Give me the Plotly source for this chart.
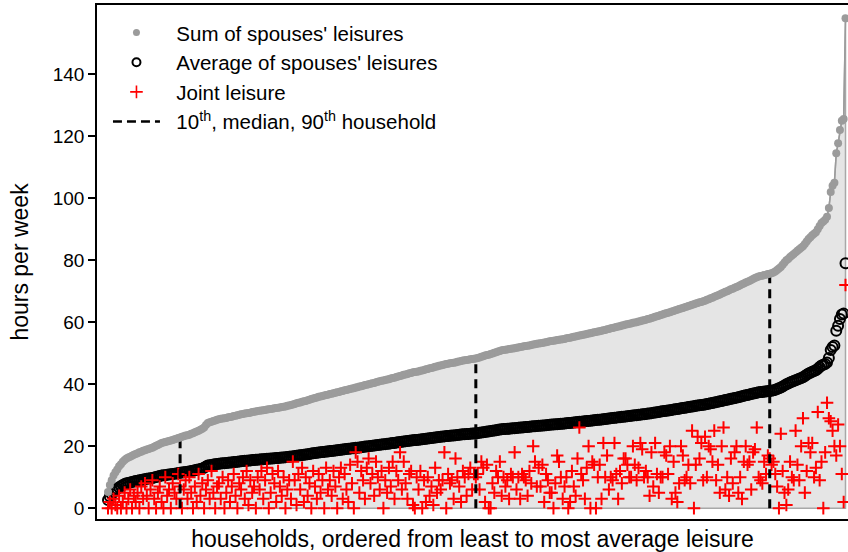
import plotly.graph_objects as go

# ---------------- data ----------------
sum_leisure = [
    5.2, 7.5, 9, 10.5, 11.6, 12.5, 13.5, 14.2, 15, 15.5, 16, 16.3, 16.6, 16.9, 17.2, 17.5, 17.7, 18, 18.2, 18.5,
    18.7, 18.9, 19.1, 19.3, 19.5, 19.8, 20.1, 20.4, 20.7, 21, 21.2, 21.3, 21.5, 21.7, 21.8, 22, 22.2, 22.4, 22.6, 22.8,
    23, 23.2, 23.4, 23.5, 23.7, 24, 24.2, 24.5, 24.7, 25, 25.3, 25.6, 26, 26.8, 27.5, 27.7, 27.9, 28.1, 28.3, 28.5,
    28.7, 28.8, 28.9, 29, 29.1, 29.3, 29.4, 29.5, 29.7, 29.8, 30, 30.1, 30.3, 30.4, 30.5, 30.6, 30.7, 30.8, 31, 31.1,
    31.2, 31.3, 31.4, 31.5, 31.6, 31.7, 31.8, 31.9, 32, 32.1, 32.2, 32.3, 32.4, 32.5, 32.6, 32.7, 32.8, 33, 33.1, 33.3,
    33.4, 33.6, 33.8, 34, 34.1, 34.3, 34.5, 34.6, 34.8, 35, 35.2, 35.4, 35.5, 35.7, 35.9, 36, 36.2, 36.3, 36.5, 36.6,
    36.8, 36.9, 37.1, 37.2, 37.4, 37.5, 37.7, 37.8, 38, 38.1, 38.3, 38.4, 38.6, 38.7, 38.9, 39, 39.2, 39.3, 39.5, 39.7,
    39.8, 40, 40.1, 40.3, 40.4, 40.6, 40.8, 40.9, 41.1, 41.2, 41.3, 41.5, 41.6, 41.8, 42, 42.1, 42.3, 42.5, 42.6, 42.8,
    43, 43.1, 43.3, 43.5, 43.6, 43.8, 43.9, 44, 44.1, 44.3, 44.4, 44.6, 44.8, 44.9, 45.1, 45.2, 45.4, 45.6, 45.7, 45.9,
    46, 46.2, 46.3, 46.5, 46.6, 46.7, 46.8, 46.9, 47, 47.2, 47.3, 47.5, 47.6, 47.7, 47.8, 47.9, 48, 48.1, 48.2, 48.3,
    48.4, 48.6, 48.8, 49, 49.2, 49.4, 49.5, 49.7, 49.9, 50.1, 50.3, 50.5, 50.7, 50.9, 51, 51.1, 51.2, 51.3, 51.4, 51.5,
    51.6, 51.7, 51.8, 52, 52.1, 52.2, 52.3, 52.4, 52.5, 52.6, 52.8, 52.9, 53, 53.1, 53.2, 53.3, 53.4, 53.5, 53.7, 53.8,
    53.9, 54, 54.1, 54.2, 54.3, 54.4, 54.5, 54.6, 54.8, 54.9, 55, 55.1, 55.3, 55.4, 55.5, 55.7, 55.8, 55.9, 56, 56.2,
    56.3, 56.4, 56.6, 56.7, 56.8, 57, 57.1, 57.2, 57.4, 57.5, 57.7, 57.8, 58, 58.1, 58.3, 58.4, 58.6, 58.7, 58.9, 59,
    59.2, 59.3, 59.5, 59.6, 59.8, 59.9, 60, 60.2, 60.3, 60.5, 60.6, 60.8, 61, 61.1, 61.3, 61.5, 61.7, 61.9, 62.1, 62.3,
    62.5, 62.7, 62.9, 63, 63.2, 63.4, 63.6, 63.8, 64, 64.2, 64.4, 64.6, 64.8, 65, 65.2, 65.4, 65.6, 65.8, 66, 66.2,
    66.4, 66.5, 66.7, 66.9, 67.2, 67.4, 67.7, 67.9, 68.2, 68.4, 68.7, 68.9, 69.2, 69.5, 69.8, 70, 70.3, 70.6, 70.8, 71.1,
    71.3, 71.6, 71.9, 72.2, 72.5, 72.8, 73, 73.3, 73.6, 73.9, 74.2, 74.5, 74.7, 74.9, 75, 75.2, 75.3, 75.5, 75.6, 75.8,
    76, 76.3, 76.8, 77.3, 77.8, 78.5, 79.2, 80, 80.4, 81, 81.5, 82, 82.5, 83, 83.5, 84, 84.5, 85.2, 86, 86.8,
    87.4, 88, 88.5, 89, 90, 91, 92, 92.5, 93, 94, 96.8, 102, 104, 105, 114.5, 117.7, 122, 125, 125.5, 158,
]

joint_leisure = [
    0, 2, 0, 3, 1, 0, 4, 0, 2, 5, 0, 3, 6, 0, 4, 2, 5, 0, 7, 3,
    8, 4, 0, 6, 9, 3, 0, 5, 7, 2, 0, 10, 4, 6, 0, 8, 5, 3, 11, 7,
    0, 6, 9, 3, 10, 5, 0, 7, 2, 11, 4, 8, 0, 6, 9, 3, 12, 5, 0, 7,
    8, 3, 10, 0, 5, 9, 2, 7, 11, 4, 0, 8, 6, 10, 3, 12, 1, 9, 5, 7,
    0, 10, 6, 12, 3, 9, 13, 0, 5, 11, 8, 2, 12, 7, 4, 10, 0, 6, 9, 3,
    15, 9, 1, 11, 6, 13, 2, 10, 4, 8, 0, 12, 7, 3, 11, 5, 9, 0, 13, 6,
    9, 4, 12, 7, 0, 10, 13, 3, 11, 6, 2, 14, 8, 0, 18, 15, 5, 12, 9, 3,
    13, 16, 8, 11, 4, 15, 10, 6, 12, 0, 9, 5, 13, 7, 15, 3, 12, 9, 18, 6,
    15, 8, 3, 11, 12, 1, 0, 10, 6, 12, 0, 9, 2, 10, 4, 7, 1, 13, 5, 9,
    6, 9, 18, 0, 11, 8, 9, 3, 16, 10, 7, 2, 12, 10, 4, 11, 13, 6, 11, 10,
    11, 6, 15, 13, 2, 14, 0, 0, 8, 5, 12, 10, 15, 4, 10, 7, 9, 3, 11, 10,
    18, 6, 10, 3, 11, 10, 9, 4, 12, 8, 20, 15, 7, 13, 7, 14, 2, 11, 9, 5,
    5, 0, 8, 17, 15, 10, 3, 7, 10, 0, 2, 12, 7, 4, 16, 26, 11, 9, 3, 13,
    20, 0, 15, 14, 0, 10, 14, 3, 21, 10, 17, 6, 10, 9, 21, 11, 3, 12, 8, 16,
    16, 14, 10, 10, 20, 14, 9, 13, 21, 19, 10, 12, 10, 4, 18, 7, 21, 11, 5, 10,
    10, 18, 17, 11, 20, 3, 15, 5, 2, 8, 20, 17, 9, 10, 14, 8, 25, 0, 14, 23,
    16, 21, 9, 23, 10, 20, 19, 15, 25, 9, 14, 5, 20, 26, 6, 10, 4, 16, 8, 18,
    20, 5, 10, 3, 15, 20, 14, 15, 6, 18, 19, 26, 10, 9, 8, 15, 11, 17, 16, 14,
    15, 11, 7, 0, 24, 12, 5, 1, 6, 15, 10, 9, 25, 14, 9, 20, 29, 5, 12, 21,
    18, 21, 10, 13, 31, 9, 15, 0, 18, 34, 29, 28, 25, 20, 17, 27, 20, 11, 2, 72,
]

# average of the two spouses = half of their sum
avg_leisure = [s / 2 for s in sum_leisure]
households = list(range(1, len(sum_leisure) + 1))
marked_households = [40, 200, 359]  # 10th percentile, median, 90th percentile
y_ticks = [0, 20, 40, 60, 80, 100, 120, 140]

legend_names = [
    "\u00a0\u00a0Sum of spouses' leisures",
    "\u00a0\u00a0Average of spouses' leisures",
    "\u00a0\u00a0Joint leisure",
    "\u00a0\u00a010<sup>th</sup>, median, 90<sup>th</sup> household",
]

# ---------------- style ----------------
GRAY = "#9b9b9b"
FILL = "#e5e5e5"
FONT = "Liberation Sans, Arial, Helvetica, sans-serif"
DASH = "9px,6px"

SUM_MARKER = dict(symbol="circle", size=8, color=GRAY)
AVG_MARKER = dict(symbol="circle-open", size=10, color="black", line=dict(color="black", width=2))
JOINT_MARKER = dict(symbol="cross-thin", size=9, color="red", line=dict(color="red", width=2))
DASH_LINE = dict(color="black", width=3, dash=DASH)

fig = go.Figure()

# shaded area under the sum curve
fig.add_trace(go.Scatter(
    x=households + [households[-1], households[0]],
    y=sum_leisure + [0, 0],
    mode="lines", fill="toself", fillcolor=FILL,
    line=dict(color="#a8a8a8", width=1.5),
    hoverinfo="skip", showlegend=False))

# average (open circles)
fig.add_trace(go.Scatter(x=households, y=avg_leisure, mode="markers",
                         marker=AVG_MARKER, showlegend=False))

# joint leisure (red plus)
fig.add_trace(go.Scatter(x=households, y=joint_leisure, mode="markers",
                         marker=JOINT_MARKER, showlegend=False))

# dashed lines at 10th, median, 90th household
for h in marked_households:
    fig.add_trace(go.Scatter(
        x=[h, h], y=[0, sum_leisure[h - 1]], mode="lines",
        line=DASH_LINE, showlegend=False, hoverinfo="skip"))

# sum (gray dots connected)
fig.add_trace(go.Scatter(
    x=households, y=sum_leisure, mode="lines+markers",
    line=dict(color=GRAY, width=1.5), marker=SUM_MARKER, showlegend=False))

# legend entries
fig.add_trace(go.Scatter(x=[None], y=[None], mode="markers", name=legend_names[0],
                         marker=dict(symbol="circle", size=7, color=GRAY), legendgroup="a"))
fig.add_trace(go.Scatter(x=[None], y=[None], mode="markers", name=legend_names[1],
                         marker=dict(symbol="circle-open", size=8, color="black",
                                     line=dict(color="black", width=2)),
                         legendgroup="b"))
fig.add_trace(go.Scatter(x=[None], y=[None], mode="markers", name=legend_names[2],
                         marker=dict(symbol="cross-thin", size=9, color="red",
                                     line=dict(color="red", width=1.6)),
                         legendgroup="c"))
fig.add_trace(go.Scatter(x=[None], y=[None], mode="lines", name=legend_names[3],
                         line=dict(color="black", width=2.5, dash="9px,5px"), legendgroup="d"))

fig.update_layout(
    width=848, height=552,
    margin=dict(l=97, r=0, t=5, b=33),
    paper_bgcolor="white", plot_bgcolor="white",
    font=dict(family=FONT, size=18, color="black"),
    showlegend=True,
    legend=dict(x=0.0146, y=0.985, xanchor="left", yanchor="top",
                bgcolor="rgba(0,0,0,0)", borderwidth=0,
                font=dict(size=20.5, family=FONT, color="black"),
                itemwidth=47, traceorder="grouped", tracegroupgap=0),
    xaxis=dict(range=[-4.95, 401.35], showticklabels=False, ticks="",
               showgrid=False, zeroline=False,
               showline=True, mirror=True, linecolor="black", linewidth=1.5,
               title=dict(text="households, ordered from least to most average leisure",
                          font=dict(size=23), standoff=13)),
    yaxis=dict(range=[-3.5, 162.3], tickvals=y_ticks, ticks="outside", ticklen=7,
               tickwidth=1.5, tickcolor="black",
               showgrid=False, zeroline=False,
               showline=True, linecolor="black", linewidth=1.5,
               tickfont=dict(size=19),
               title=dict(text="hours per week", font=dict(size=23), standoff=18)),
)

fig.write_html("out.html")
